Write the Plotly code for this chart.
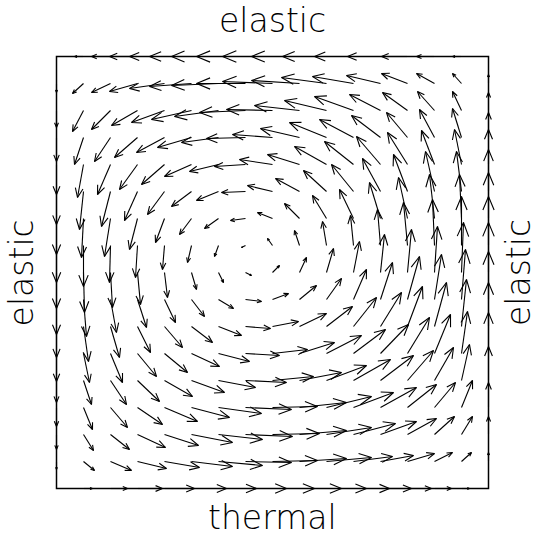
import numpy as np
import plotly.figure_factory as ff

# 17 x 17 grid nodes, column index left -> right, row index top -> bottom
cols = list(range(17))
rows = list(range(17))

# arrow components, in screen pixels (one grid step = 27 px)
# u: positive to the right, v: positive downward; one inner list per row
u_px = [
    [0, -9, -19, -28, -35, -42, -47, -49, -50, -48, -44, -39, -33, -26, -18, -9, 0],
    [0, -11, -19, -28, -35, -42, -47, -49, -50, -48, -45, -41, -34, -26, -18, -9, 0],
    [0, -11, -19, -26, -33, -40, -44, -46, -46, -45, -42, -39, -31, -25, -17, -9, 0],
    [0, -9, -16, -23, -28, -34, -37, -39, -40, -39, -37, -34, -29, -21, -15, -9, 0],
    [0, -6, -13, -18, -23, -27, -29, -31, -33, -32, -32, -29, -24, -20, -13, -7, 0],
    [0, -4, -9, -13, -17, -20, -22, -24, -25, -24, -23, -22, -18, -14, -9, -5, 0],
    [0, -2, -6, -8, -9, -12, -14, -15, -15, -15, -14, -14, -11, -9, -5, -2, 0],
    [0, 0, -1, -2, -2, -4, -4, -4, -5, -5, -4, -3, -3, -4, -2, 0, 0],
    [0, 1, 2, 3, 3, 5, 5, 6, 7, 7, 7, 6, 4, 4, 3, 2, 0],
    [0, 3, 6, 9, 11, 13, 15, 16, 16, 17, 15, 13, 12, 12, 7, 4, 0],
    [0, 5, 9, 13, 18, 21, 23, 25, 26, 27, 26, 23, 21, 15, 12, 5, 0],
    [0, 6, 12, 19, 23, 28, 31, 34, 35, 35, 35, 32, 28, 22, 16, 6, 0],
    [0, 8, 16, 22, 28, 33, 37, 41, 41, 42, 40, 37, 33, 26, 19, 8, 0],
    [0, 9, 17, 25, 33, 38, 43, 46, 45, 47, 45, 40, 36, 29, 21, 11, 0],
    [0, 10, 19, 28, 34, 41, 44, 47, 47, 47, 45, 42, 36, 29, 20, 11, 0],
    [0, 11, 21, 29, 35, 41, 44, 46, 45, 47, 45, 39, 33, 27, 18, 10, 0],
    [0, 9, 17, 25, 30, 35, 38, 41, 42, 42, 40, 36, 31, 24, 17, 8, 0],
]
v_px = [
    [0] * 17,
    [9, 10, 9, 8, 5, 3, 2, 0, -2, -3, -6, -7, -8, -10, -10, -10, -9],
    [17, 21, 19, 15, 12, 9, 6, 2, -1, -5, -10, -14, -16, -18, -19, -19, -18],
    [24, 27, 24, 20, 15, 10, 5, 1, -3, -9, -15, -18, -22, -25, -28, -29, -25],
    [30, 33, 30, 25, 20, 12, 7, 2, -5, -10, -18, -23, -28, -32, -34, -35, -35],
    [33, 38, 35, 29, 23, 15, 9, 1, -6, -13, -21, -27, -33, -37, -40, -40, -42],
    [36, 39, 38, 31, 24, 16, 10, 2, -6, -15, -23, -29, -36, -41, -44, -44, -46],
    [37, 41, 37, 32, 24, 17, 11, 2, -7, -15, -24, -30, -36, -43, -46, -49, -49],
    [36, 40, 35, 32, 25, 17, 10, 3, -7, -15, -24, -31, -38, -43, -46, -50, -50],
    [35, 37, 33, 28, 23, 17, 9, 2, -6, -14, -21, -30, -37, -43, -45, -50, -48],
    [31, 35, 31, 26, 21, 16, 9, 2, -5, -13, -20, -29, -34, -40, -44, -47, -44],
    [28, 29, 29, 23, 19, 13, 8, 2, -4, -11, -18, -24, -29, -36, -39, -42, -41],
    [22, 24, 24, 21, 16, 12, 7, 2, -4, -8, -15, -21, -25, -30, -33, -36, -34],
    [19, 22, 20, 17, 14, 10, 6, 2, -1, -5, -11, -15, -20, -23, -25, -27, -25],
    [15, 16, 15, 13, 11, 8, 5, 2, -1, -4, -7, -11, -13, -16, -18, -18, -18],
    [8, 9, 9, 7, 6, 5, 4, 1, -1, -3, -4, -5, -6, -8, -9, -9, -9],
    [0] * 17,
]

side_labels = {"top": "elastic", "bottom": "thermal", "left": "elastic", "right": "elastic"}

PX_PER_STEP = 27.0
FONT = dict(family="DejaVu Sans", size=33, color="black", weight=200)

x, y = np.meshgrid(cols, rows)
fig = ff.create_quiver(
    x, y, np.array(u_px, dtype=float), np.array(v_px, dtype=float),
    scale=1 / PX_PER_STEP, arrow_scale=0.3, angle=np.pi / 8,
    line=dict(color="black", width=1.1), hoverinfo="skip",
)

fig.add_shape(type="rect", x0=0, x1=16, y0=0, y1=16,
              line=dict(color="black", width=1.5))

labels = [
    dict(text=side_labels["top"], x=0.5, y=1.05, textangle=0),
    dict(text=side_labels["bottom"], x=0.5, y=-0.034, textangle=0),
    dict(text=side_labels["left"], x=-0.046, y=0.5, textangle=-90),
    dict(text=side_labels["right"], x=1.036, y=0.5, textangle=-90),
]
for lab in labels:
    fig.add_annotation(xref="paper", yref="paper", showarrow=False,
                       xanchor="center", yanchor="middle", font=FONT, **lab)

fig.update_xaxes(range=[-0.5, 16.5], visible=False)
fig.update_yaxes(range=[16.5, -0.5], visible=False)
fig.update_layout(
    width=533, height=534, autosize=False, showlegend=False,
    margin=dict(l=43, r=31, t=43, b=32),
    plot_bgcolor="white", paper_bgcolor="white",
)

fig.write_html("out.html", config={"displayModeBar": False},
               post_script="document.body.style.margin = '0';")
